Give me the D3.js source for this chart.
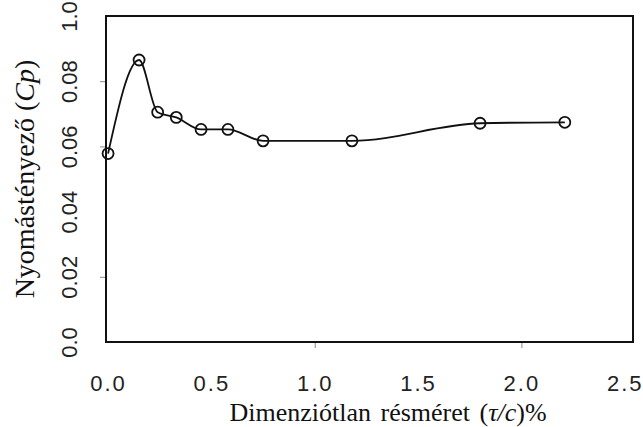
<!DOCTYPE html>
<html>
<head>
<meta charset="utf-8">
<script src="https://cdn.jsdelivr.net/npm/d3@7"></script>
<style>
  body { margin: 0; background: #fff; }
  .tick-label { font-family: 'Liberation Sans', Arial, sans-serif; font-size: 22px; fill: #222; }
  .axis-title { font-family: 'Liberation Serif', 'Times New Roman', serif; fill: #111; }
</style>
</head>
<body>
<div id="graph"></div>
<script>
// gap size (tau/c %) and pressure coefficient
const gapSize = [0.0, 0.15, 0.24, 0.33, 0.45, 0.58, 0.75, 1.18, 1.80, 2.21];
const pressureCoef = [0.0578, 0.0865, 0.0705, 0.0689, 0.0652, 0.0652, 0.0617, 0.0617, 0.0671, 0.0674];

const xTicks = [0, 0.5, 1.0, 1.5, 2.0, 2.5];
const xTickLabels = ['0.0', '0.5', '1.0', '1.5', '2.0', '2.5'];
const yTicks = [0, 0.02, 0.04, 0.06, 0.08, 0.1];
const yTickLabels = ['0.0', '0.02', '0.04', '0.06', '0.08', '1.0'];

const width = 643;
const height = 427;
const margin = { top: 16, right: 10, bottom: 85, left: 106 };

const data = gapSize.map((g, i) => ({ gap: g, cp: pressureCoef[i] }));

const xScale = d3.scaleLinear()
  .domain([-0.01, 2.54])
  .range([margin.left, width - margin.right]);

const yScale = d3.scaleLinear()
  .domain([0, 0.1])
  .range([height - margin.bottom, margin.top]);

const svg = d3.select('#graph')
  .append('svg')
  .attr('width', width)
  .attr('height', height);

// x axis: labels, plus the two small ticks that show in the scan
const xAxis = d3.axisBottom(xScale)
  .tickValues(xTicks)
  .tickSize(0)
  .tickPadding(33)
  .tickFormat((d, i) => xTickLabels[i]);

const gx = svg.append('g')
  .attr('transform', `translate(0, ${height - margin.bottom})`)
  .call(xAxis);
gx.select('.domain').remove();
gx.selectAll('text')
  .attr('class', 'tick-label')
  .attr('fill', null)
  .style('letter-spacing', '2px');

svg.append('g')
  .attr('transform', `translate(0, ${height - margin.bottom})`)
  .call(d3.axisBottom(xScale).tickValues([1.0, 2.0]).tickSize(6).tickFormat(''))
  .call((g) => g.select('.domain').remove())
  .selectAll('line')
  .attr('stroke', '#888');

// y axis: rotated labels
const yAxis = d3.axisLeft(yScale)
  .tickValues(yTicks)
  .tickSize(0)
  .tickFormat((d, i) => yTickLabels[i]);

const gy = svg.append('g')
  .attr('transform', `translate(${margin.left}, 0)`)
  .call(yAxis);
gy.select('.domain').remove();
gy.selectAll('.tick text')
  .attr('class', 'tick-label')
  .attr('fill', null)
  .attr('x', 0)
  .attr('dy', 0)
  .attr('text-anchor', 'middle')
  .attr('transform', 'translate(-29, 0) rotate(-90)');

svg.append('g')
  .attr('transform', `translate(${margin.left}, 0)`)
  .call(d3.axisLeft(yScale).tickValues([0.02, 0.06, 0.08]).tickSize(6).tickFormat(''))
  .call((g) => g.select('.domain').remove())
  .selectAll('line')
  .attr('stroke', '#888');

// plot box
svg.append('rect')
  .attr('x', margin.left)
  .attr('y', margin.top)
  .attr('width', width - margin.left - margin.right)
  .attr('height', height - margin.top - margin.bottom)
  .attr('fill', 'none')
  .attr('stroke', '#111')
  .attr('stroke-width', 2);

// line
const line = d3.line()
  .curve(d3.curveMonotoneX)
  .x((d) => xScale(d.gap))
  .y((d) => yScale(d.cp));

svg.append('path')
  .datum(data)
  .attr('fill', 'none')
  .attr('stroke', '#111')
  .attr('stroke-width', 1.8)
  .attr('d', line);

svg.selectAll('.pt')
  .data(data)
  .enter()
  .append('circle')
  .attr('class', 'pt')
  .attr('cx', (d) => xScale(d.gap))
  .attr('cy', (d) => yScale(d.cp))
  .attr('r', 5.5)
  .attr('fill', 'none')
  .attr('stroke', '#111')
  .attr('stroke-width', 1.8);

// axis titles
const xTitle = svg.append('text')
  .attr('class', 'axis-title')
  .attr('x', 388)
  .attr('y', 421)
  .attr('text-anchor', 'middle')
  .style('font-size', '26px')
  .style('word-spacing', '3px');
xTitle.append('tspan').text('Dimenziótlan résméret (');
xTitle.append('tspan').style('font-style', 'italic').text('τ/c');
xTitle.append('tspan').text(')%');

const yTitle = svg.append('text')
  .attr('class', 'axis-title')
  .attr('transform', `translate(34, ${(margin.top + height - margin.bottom) / 2}) rotate(-90)`)
  .attr('text-anchor', 'middle')
  .style('font-size', '28px');
yTitle.append('tspan').text('Nyomástényező (');
yTitle.append('tspan').style('font-style', 'italic').text('Cp');
yTitle.append('tspan').text(')');
</script>
</body>
</html>
